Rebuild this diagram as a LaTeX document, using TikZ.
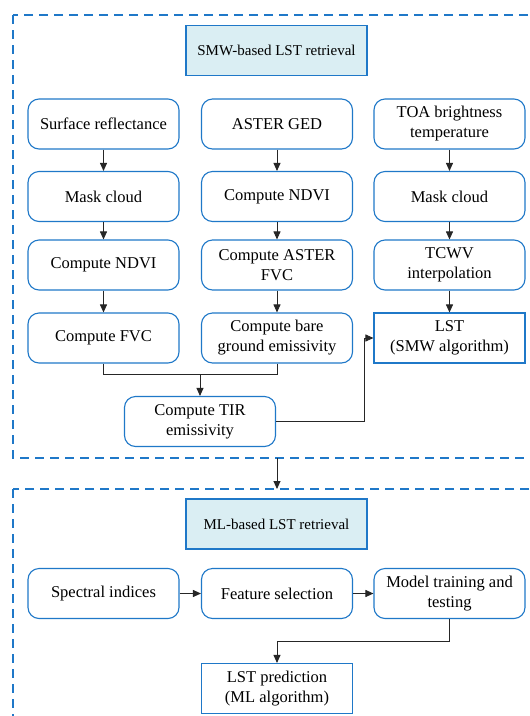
\documentclass[tikz,border=0pt]{standalone}
\usepackage{fontspec}
\setmainfont{Liberation Serif}
\newfontfamily\boxfont{Liberation Serif}
\usetikzlibrary{arrows.meta,positioning}
\definecolor{bblue}{HTML}{1F78C8}
\definecolor{tfill}{HTML}{DAEEF3}
\tikzset{
  rbox/.style={draw=bblue, line width=1.1pt, rounded corners=11pt, minimum width=151pt, minimum height=50pt, align=center, inner sep=1pt, font=\boxfont\fontsize{16.5}{20}\selectfont},
  sbox/.style={rbox, rounded corners=0pt},
  tbox/.style={draw=bblue, line width=1.1pt, fill=tfill, minimum width=181pt, minimum height=50pt, align=center, font=\boxfont\fontsize{15}{18}\selectfont},
  dbox/.style={draw=bblue, line width=1.1pt, dash pattern=on 9pt off 6pt},
  arr/.style={draw=black!85, line width=0.9pt, -{Triangle[length=8pt,width=7pt]}},
  ln/.style={draw=black!85, line width=0.9pt},
}
\begin{document}
\begin{tikzpicture}[x=1pt,y=-1pt]
\useasboundingbox (0,0) rectangle (530,716);
\clip (0,0) rectangle (530,716);
\fill[white] (0,0) rectangle (530,716);
% dashed group boxes
\draw[dbox] (13,15) rectangle (540,458);
\draw[dbox] (13,489) rectangle (540,730);
\coordinate (g1b) at (277,458);
\coordinate (g2t) at (277,489);
% titles
\node[tbox] (t1) at (276.5,50.5) {SMW-based LST retrieval};
\node[tbox] (t2) at (276.5,524) {ML-based LST retrieval};
% left column
\node[rbox] (a1) at (103.5,124) {Surface reflectance};
\node[rbox] (a2) at (103.5,196.5) {Mask cloud};
\node[rbox] (a3) at (103.5,265) {Compute NDVI};
\node[rbox] (a4) at (103.5,338) {Compute FVC};
% middle column
\node[rbox] (b1) at (277,124) {ASTER GED};
\node[rbox] (b2) at (277,196.5) {Compute NDVI};
\node[rbox] (b3) at (277,265) {Compute ASTER\\FVC};
\node[rbox] (b4) at (277,338) {Compute bare\\ground emissivity};
% right column
\node[rbox] (c1) at (449.5,124) {TOA brightness\\temperature};
\node[rbox] (c2) at (449.5,196.5) {Mask cloud};
\node[rbox] (c3) at (449.5,265) {TCWV\\interpolation};
\node[sbox] (c4) at (449.5,338) {LST\\(SMW algorithm)};
% TIR
\node[rbox] (tir) at (200,421.5) {Compute TIR\\emissivity};
% arrows
\draw[arr] (a1) -- (a2);
\draw[arr] (a2) -- (a3);
\draw[arr] (a3) -- (a4);
\draw[arr] (b1) -- (b2);
\draw[arr] (b2) -- (b3);
\draw[arr] (b3) -- (b4);
\draw[arr] (c1) -- (c2);
\draw[arr] (c2) -- (c3);
\draw[arr] (c3) -- (c4);
\coordinate (j) at (200,374);
\draw[ln] (a4.south) |- (j);
\draw[ln] (b4.south) |- (j);
\draw[arr] (j) -- (tir.north);
\coordinate (k) at (364,421.5);
\draw[arr] (tir.east) -- (k) |- (c4.west);
\draw[arr] (g1b) -- (g2t);
% ML row
\node[rbox] (m1) at (103.5,593.5) {Spectral indices};
\node[rbox] (m2) at (277,593.5) {Feature selection};
\node[rbox] (m3) at (449.5,593.5) {Model training and\\testing};
\node[sbox] (m4) at (277,688.5) {LST prediction\\(ML algorithm)};
\draw[arr] (m1) -- (m2);
\draw[arr] (m2) -- (m3);
\coordinate (q) at (449.5,641);
\draw[arr] (m3.south) -- (q) -| (m4.north);
\end{tikzpicture}
\end{document}
